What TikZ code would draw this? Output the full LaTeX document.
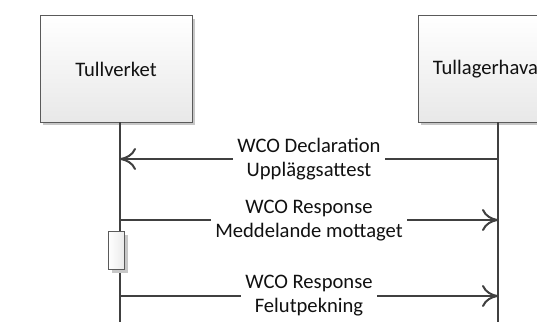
\documentclass[tikz,border=0pt]{standalone}
\usepackage{fontspec}
\setmainfont{Carlito}
\usetikzlibrary{arrows.meta,shadows}
\definecolor{lineC}{HTML}{404040}
\definecolor{boxB}{HTML}{5A5A5A}
\definecolor{txtC}{HTML}{111111}
\begin{document}
\begin{tikzpicture}[x=1pt,y=-1pt,
  actor/.style={draw=boxB, line width=1pt, top color=white, bottom color=black!9,
    minimum width=152pt, minimum height=106pt, inner sep=0pt, text=txtC,
    drop shadow={shadow xshift=3pt,shadow yshift=-3pt,fill=black!22,opacity=1},
    font=\fontsize{20.6}{24}\selectfont},
  actbox/.style={draw=boxB, line width=1pt, left color=white, right color=black!8,
    minimum width=16pt, minimum height=38pt, inner sep=0pt,
    drop shadow={shadow xshift=4pt,shadow yshift=-4pt,fill=black!22,opacity=1}},
  lifeline/.style={draw=lineC, line width=2pt},
  msg/.style={draw=lineC, line width=2pt, -{To[length=16pt,width=22pt,line width=2pt]}},
  lbl/.style={fill=white, align=center, inner xsep=4pt, inner ysep=2pt, text=txtC,
    font=\fontsize{20.6}{24}\selectfont}
]
\useasboundingbox (0,0) rectangle (537,321);
% actors
\node[actor] (tv) at (116,69) {Tullverket};
\node[actor] (tl) at (494,69) {Tullagerhavare};
% lifelines
\coordinate (tvtop) at (120,122);
\coordinate (tvend) at (120,325);
\coordinate (tltop) at (498,122);
\coordinate (tlend) at (498,325);
\draw[lifeline] (tvtop) -- (tvend);
\draw[lifeline] (tltop) -- (tlend);
% activation
\node[actbox] (act) at (116,250) {};
% message endpoints
\coordinate (l1) at (120,159);
\coordinate (r1) at (498,159);
\coordinate (l2) at (120,220);
\coordinate (r2) at (498,220);
\coordinate (l3) at (120,296);
\coordinate (r3) at (498,296);
% messages
\draw[msg] (r1) -- (l1);
\node[lbl] (m1) at (309,159) {WCO Declaration\\Uppläggsattest};
\draw[msg] (l2) -- (r2);
\node[lbl] (m2) at (309,221) {WCO Response\\Meddelande mottaget};
\draw[msg] (l3) -- (r3);
\node[lbl] (m3) at (309,296) {WCO Response\\Felutpekning};
\end{tikzpicture}
\end{document}
